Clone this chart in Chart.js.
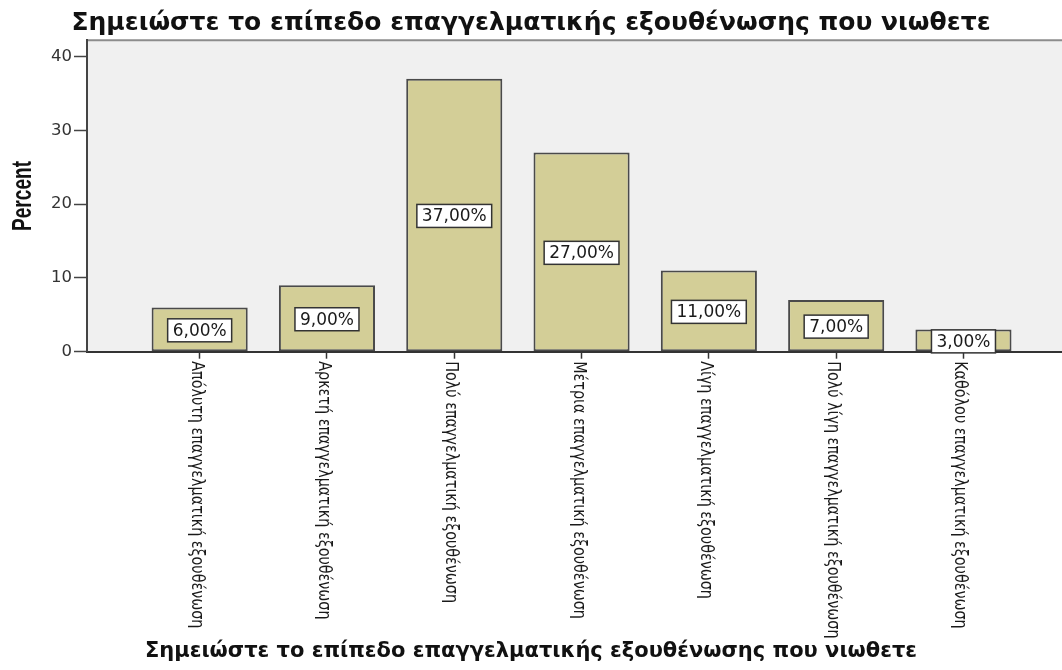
<!DOCTYPE html>
<html>
<head>
<meta charset="utf-8">
<script src="https://cdn.jsdelivr.net/npm/chart.js@4.4.1/dist/chart.umd.min.js"></script>
<style>
  html, body { margin: 0; padding: 0; background: #ffffff; }
  #c { display: block; }
</style>
</head>
<body>
<canvas id="c" width="1062" height="670"></canvas>
<script>
// ---- data ----
const categories = [
  "Απόλυτη επαγγελματική εξουθένωση",
  "Αρκετή επαγγελματική εξουθένωση",
  "Πολύ επαγγελματική εξουθένωση",
  "Μέτρια επαγγελματική εξουθένωση",
  "Λίγη επαγγελματική εξουθένωση",
  "Πολύ λίγη επαγγελματική εξουθένωση",
  "Καθόλου επαγγελματική εξουθένωση"
];
const percentValues = [6, 9, 37, 27, 11, 7, 3];
const yTickValues = [0, 10, 20, 30, 40];
const chartTitle = "Σημειώστε το επίπεδο επαγγελματικής εξουθένωσης που νιωθετε";
const xAxisTitle = "Σημειώστε το επίπεδο επαγγελματικής εξουθένωσης που νιωθετε";
const yAxisTitle = "Percent";

const fmtPct = v => v.toFixed(2).replace('.', ',') + '%';

const plotBg = {
  id: 'plotBg',
  beforeDraw(chart) {
    const {ctx, chartArea: a} = chart;
    ctx.save();
    ctx.fillStyle = '#f0f0f0';
    ctx.fillRect(a.left, a.top, a.right - a.left, a.bottom - a.top);
    ctx.strokeStyle = '#8c8c8c';
    ctx.lineWidth = 2;
    ctx.beginPath();
    ctx.moveTo(a.left, a.top);
    ctx.lineTo(a.right, a.top);
    ctx.stroke();
    ctx.restore();
  }
};

const extraText = {
  id: 'extraText',
  afterDraw(chart) {
    const {ctx} = chart;
    const xs = chart.scales.x;
    // rotated category labels (reading top to bottom), condensed
    ctx.save();
    ctx.fillStyle = '#1a1a1a';
    ctx.font = '17.5px "DejaVu Sans"';
    ctx.textAlign = 'left';
    ctx.textBaseline = 'alphabetic';
    categories.forEach((lab, i) => {
      const px = xs.getPixelForValue(i);
      ctx.save();
      ctx.translate(px - 8, xs.top + 9.5);
      ctx.rotate(Math.PI / 2);
      ctx.scale(0.82, 1);
      ctx.fillText(lab, 0, 0);
      ctx.restore();
    });
    ctx.restore();

    // y axis title (condensed bold)
    const a = chart.chartArea;
    ctx.save();
    ctx.fillStyle = '#111';
    ctx.font = 'bold 27px "Liberation Sans"';
    const w = ctx.measureText(yAxisTitle).width;
    ctx.translate(31, (a.top + a.bottom) / 2);
    ctx.rotate(-Math.PI / 2);
    ctx.scale(70 / w, 1);
    ctx.textAlign = 'center';
    ctx.textBaseline = 'alphabetic';
    ctx.fillText(yAxisTitle, 0, 0);
    ctx.restore();

    // value labels in boxes
    const meta = chart.getDatasetMeta(0);
    ctx.save();
    ctx.font = '17px "DejaVu Sans"';
    ctx.textAlign = 'center';
    ctx.textBaseline = 'middle';
    meta.data.forEach((bar, i) => {
      const txt = fmtPct(percentValues[i]);
      const tw = ctx.measureText(txt).width;
      const bw = tw + 10, bh = 23;
      const cx = bar.x, cy = (bar.y + bar.base) / 2 + 1;
      ctx.fillStyle = '#ffffff';
      ctx.fillRect(cx - bw / 2, cy - bh / 2, bw, bh);
      ctx.strokeStyle = '#333333';
      ctx.lineWidth = 1.5;
      ctx.strokeRect(cx - bw / 2, cy - bh / 2, bw, bh);
      ctx.fillStyle = '#1a1a1a';
      ctx.fillText(txt, cx, cy + 1);
    });
    ctx.restore();
  }
};

new Chart(document.getElementById('c'), {
  type: 'bar',
  data: {
    datasets: [{
      label: yAxisTitle,
      data: percentValues.map((v, i) => ({x: i, y: v})),
      backgroundColor: '#d3ce97',
      borderColor: '#4a4a4a',
      borderWidth: 2,
      borderSkipped: false,
      categoryPercentage: 1,
      barPercentage: 0.755
    }]
  },
  options: {
    responsive: false,
    animation: false,
    devicePixelRatio: 1,
    layout: { padding: 0 },
    plugins: {
      legend: { display: false },
      tooltip: { enabled: false },
      title: {
        display: true,
        text: chartTitle,
        color: '#111',
        font: { family: 'DejaVu Sans', weight: 'bold', size: 25 },
        padding: { top: 8.5, bottom: 1.8 }
      },
      subtitle: {
        display: true,
        position: 'bottom',
        text: xAxisTitle,
        color: '#111',
        font: { family: 'DejaVu Sans', weight: 'bold', size: 21 },
        padding: { top: 4, bottom: 5.4 }
      }
    },
    scales: {
      x: {
        type: 'linear',
        min: -0.885,
        max: 6.774,
        offset: false,
        grid: {
          display: true, offset: false, drawOnChartArea: false,
          drawTicks: true, tickLength: 7, tickWidth: 1.5, tickColor: '#333'
        },
        border: { display: true, color: '#333', width: 2 },
        ticks: { display: false },
        afterBuildTicks: s => { s.ticks = categories.map((_, i) => ({ value: i })); },
        afterFit: s => { s.height = 283.7; }
      },
      y: {
        min: 0,
        max: 42.2,
        grid: {
          display: true, drawOnChartArea: false,
          drawTicks: true, tickLength: 13, tickWidth: 1.5, tickColor: '#444'
        },
        border: { display: true, color: '#444', width: 2 },
        ticks: {
          color: '#333',
          padding: 2,
          font: { family: 'DejaVu Sans', size: 16.5 }
        },
        afterBuildTicks: s => { s.ticks = yTickValues.map(v => ({ value: v })); },
        afterFit: s => { s.width = 87; }
      }
    }
  },
  plugins: [plotBg, extraText]
});
</script>
</body>
</html>
